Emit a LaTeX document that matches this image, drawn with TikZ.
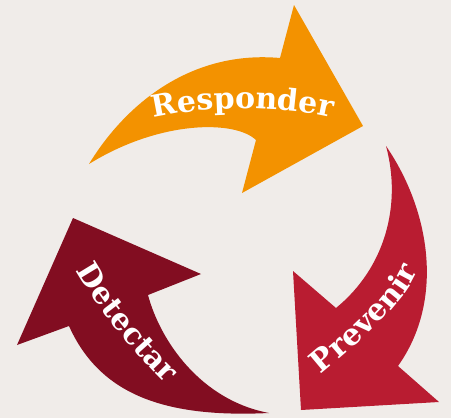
\documentclass[tikz,border=0pt]{standalone}
\usepackage{fontspec}
\newfontfamily\lblfont{DejaVu Serif}
\usetikzlibrary{decorations.text}
\definecolor{bg}{HTML}{F0ECE9}
\definecolor{orangeA}{HTML}{F39200}
\definecolor{redA}{HTML}{B91C31}
\definecolor{darkA}{HTML}{820D21}
\newcommand\lblstyle{\lblfont\bfseries\fontsize{22.5}{22.5}\selectfont}
\begin{document}
\begin{tikzpicture}[x=0.75pt,y=-0.75pt,
  lbl/.style={decorate, decoration={text along path, text align=center, text color=white}}]
\fill[bg] (0,0) rectangle (451,418);
\useasboundingbox (0,0) rectangle (451,418);
% Responder (orange)
\fill[orangeA] (89,164) .. controls (125,105) and (190,50) .. (280,58)
  -- (294,5) -- (363,126) -- (242,193) -- (256,140)
  .. controls (235,120) and (160,120) .. (89,164) -- cycle;
% Prevenir (red)
\fill[redA] (386,146) .. controls (430,210) and (445,300) .. (398,366)
  -- (439,402) -- (301,410) -- (293,271) -- (336,308)
  .. controls (385,268) and (402,205) .. (386,146) -- cycle;
% Detectar (dark red)
\fill[darkA] (269,413) .. controls (165,418) and (100,395) .. (69,326)
  -- (17,345) -- (73,218) -- (201,274) -- (148,295)
  .. controls (160,340) and (200,400) .. (269,413) -- cycle;
% labels
\path[lbl, decoration={text={|\lblstyle|Responder}}]
  (128.5,123.4) -- (153,118) .. controls (210,105) and (275,105) .. (333,118) -- (357.5,123.4);
\path[lbl, decoration={text={|\lblstyle|Prevenir}}]
  (297,394) -- (320,375) .. controls (351,349) and (403,307) .. (418,270) -- (429,242);
\path[lbl, decoration={text={|\lblstyle|Detectar}}]
  (63,247) -- (77,273) .. controls (96,308) and (136,354) .. (164,382) -- (185,403);
\end{tikzpicture}
\end{document}
